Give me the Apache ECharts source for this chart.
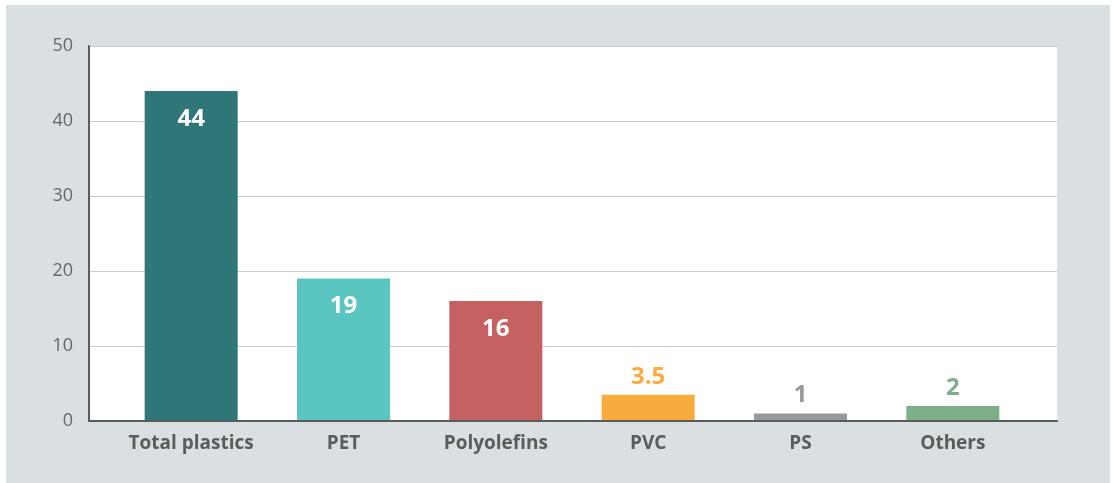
<!DOCTYPE html>
<html>
<head>
<meta charset="utf-8">
<script src="https://cdn.jsdelivr.net/npm/echarts@6/dist/echarts.min.js"></script>
<style>
  html, body { margin: 0; padding: 0; background: #ffffff; }
  #chart { width: 1115px; height: 483px; }
</style>
</head>
<body>
<div id="chart"></div>
<script>
const categories = ["Total plastics", "PET", "Polyolefins", "PVC", "PS", "Others"];
const values = [44, 19, 16, 3.5, 1, 2];
const barColors = ["#2e7677", "#5bc5bf", "#c56163", "#f9ab3d", "#98999c", "#7daf8b"];
// big bars carry their label inside, small ones above in the bar colour
const insideLabel = [true, true, true, false, false, false];
const yTicks = [0, 10, 20, 30, 40, 50];

const font = "'Open Sans', 'DejaVu Sans', sans-serif";
const chart = echarts.init(document.getElementById("chart"), null, { renderer: "canvas" });

const barData = values.map((v, i) => ({
  value: v,
  itemStyle: { color: barColors[i] },
  label: insideLabel[i]
    ? { position: "insideTop", distance: 16, color: "#ffffff" }
    : { position: "top", distance: 6, color: barColors[i] },
}));

const option = {
  backgroundColor: "#ffffff",
  animation: false,
  graphic: [
    {
      type: "rect",
      silent: true,
      z: -100,
      shape: { x: 6, y: 5, width: 1104, height: 478 },
      style: { fill: "#dadfe1" },
    },
  ],
  grid: [
    // bars
    { left: 115, right: 86, top: 46, bottom: 62, containLabel: false },
    // white frame with axes and gridlines
    {
      left: 89, right: 58, top: 46, bottom: 62,
      show: true, backgroundColor: "#ffffff", borderWidth: 0, z: -1,
    },
  ],
  xAxis: [
    {
      type: "category",
      gridIndex: 0,
      data: categories,
      axisLine: { show: false },
      axisTick: { show: false },
      axisLabel: {
        interval: 0,
        hideOverlap: false,
        margin: 13,
        fontFamily: font,
        fontSize: 19,
        fontWeight: "bold",
        color: "#5b5c5e",
      },
    },
    {
      type: "value",
      gridIndex: 1,
      min: 0,
      max: 1,
      z: 5,
      axisLine: { show: true, lineStyle: { color: "#5a5b5d", width: 2 } },
      axisTick: { show: false },
      axisLabel: { show: false },
      splitLine: { show: false },
    },
  ],
  yAxis: [
    {
      type: "value",
      gridIndex: 0,
      min: 0,
      max: 50,
      show: false,
    },
    {
      type: "value",
      gridIndex: 1,
      min: yTicks[0],
      max: yTicks[yTicks.length - 1],
      interval: 10,
      z: 0,
      axisLine: { show: true, lineStyle: { color: "#5a5b5d", width: 2 } },
      axisTick: { show: false },
      axisLabel: {
        margin: 16,
        fontFamily: font,
        fontSize: 18,
        color: "#666769",
      },
      splitLine: { show: true, lineStyle: { color: "#c9cccd", width: 1 } },
    },
  ],
  series: [
    {
      type: "bar",
      xAxisIndex: 0,
      yAxisIndex: 0,
      data: barData,
      barWidth: 93,
      label: {
        show: true,
        fontFamily: font,
        fontSize: 24,
        fontWeight: "bold",
      },
    },
  ],
};

chart.setOption(option);
</script>
</body>
</html>
